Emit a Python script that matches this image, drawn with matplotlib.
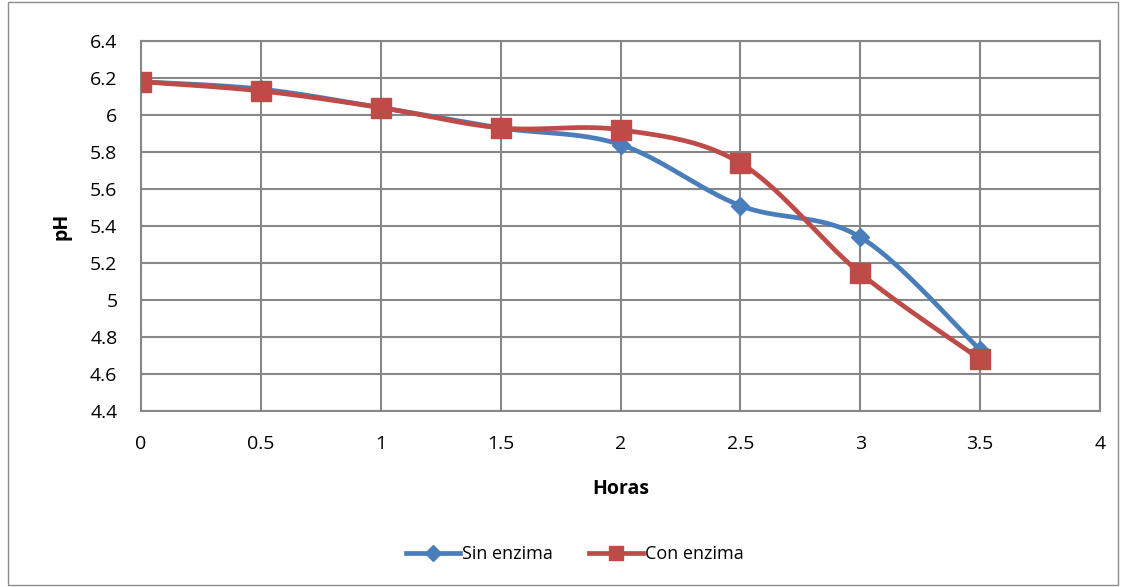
import numpy as np
import matplotlib.pyplot as plt
from matplotlib.lines import Line2D

horas = [0, 0.5, 1, 1.5, 2, 2.5, 3, 3.5]
sin_enzima = [6.18, 6.14, 6.04, 5.93, 5.84, 5.51, 5.34, 4.73]
con_enzima = [6.18, 6.13, 6.04, 5.93, 5.92, 5.74, 5.145, 4.68]

BLUE = '#4A7EBB'
RED = '#BE4B48'
GRID = '#878787'


def smooth(x, y, n=40):
    """Excel-style smoothed line (cubic Bezier, Catmull-Rom control points)."""
    p = np.column_stack([x, y]).astype(float)
    ext = np.vstack([p[0], p, p[-1]])
    out = []
    t = np.linspace(0, 1, n)[:, None]
    for i in range(len(p) - 1):
        p0, p1, p2, p3 = ext[i], ext[i + 1], ext[i + 2], ext[i + 3]
        c1 = p1 + (p2 - p0) / 6
        c2 = p2 - (p3 - p1) / 6
        seg = ((1 - t) ** 3) * p1 + 3 * ((1 - t) ** 2) * t * c1 \
            + 3 * (1 - t) * t ** 2 * c2 + t ** 3 * p2
        out.append(seg)
    s = np.vstack(out)
    return s[:, 0], s[:, 1]


plt.rcParams['font.family'] = ['Open Sans', 'DejaVu Sans']

fig = plt.figure(figsize=(11.22, 5.87), dpi=100)
W, H = 1122, 587
ax = fig.add_axes([141 / W, 1 - 411 / H, (1100 - 141) / W, (411 - 41) / H])

# outer chart border
fig.patches.append(plt.Rectangle((8 / W, 2 / H), 1110 / W, 1 - 4 / H,
                                 transform=fig.transFigure, fill=False,
                                 edgecolor='#8c8c8c', linewidth=1))

sx, sy = smooth(horas, sin_enzima)
ax.plot(sx, sy, color=BLUE, linewidth=3.4, zorder=3)
ax.plot(horas, sin_enzima, linestyle='none', marker='D', markersize=9,
        color=BLUE, zorder=4)

cx, cy = smooth(horas, con_enzima)
ax.plot(cx, cy, color=RED, linewidth=3.4, zorder=5)
ax.plot(horas, con_enzima, linestyle='none', marker='s', markersize=14,
        color=RED, zorder=6)

ax.set_xlim(0, 4)
ax.set_ylim(4.4, 6.4)
ax.set_xticks(np.arange(0, 4.01, 0.5))
ax.set_xticklabels(['0', '0.5', '1', '1.5', '2', '2.5', '3', '3.5', '4'])
ax.set_yticks(np.arange(4.4, 6.41, 0.2))
ax.set_yticklabels(['4.4', '4.6', '4.8', '5', '5.2', '5.4', '5.6', '5.8',
                    '6', '6.2', '6.4'])
ax.tick_params(axis='x', length=0, labelsize=14, pad=17)
ax.tick_params(axis='y', length=0, labelsize=14, pad=17)
ax.grid(True, color=GRID, linewidth=1.5)
for s in ax.spines.values():
    s.set_color(GRID)
    s.set_linewidth(1.5)

ax.set_xlabel('Horas', fontsize=14, fontweight='bold', labelpad=19)
ax.set_ylabel('pH', fontsize=14, fontweight='bold', labelpad=13)

handles = [Line2D([], [], color=BLUE, linewidth=3.4, marker='D', markersize=8),
           Line2D([], [], color=RED, linewidth=3.4, marker='s', markersize=10)]
fig.legend(handles, ['Sin enzima', 'Con enzima'], loc='center',
           bbox_to_anchor=(575 / W, 1 - 554 / H), ncol=2, frameon=False,
           fontsize=13, handlelength=3.0, handletextpad=0.1,
           columnspacing=2.0)

fig.savefig('out.png', dpi=100)
